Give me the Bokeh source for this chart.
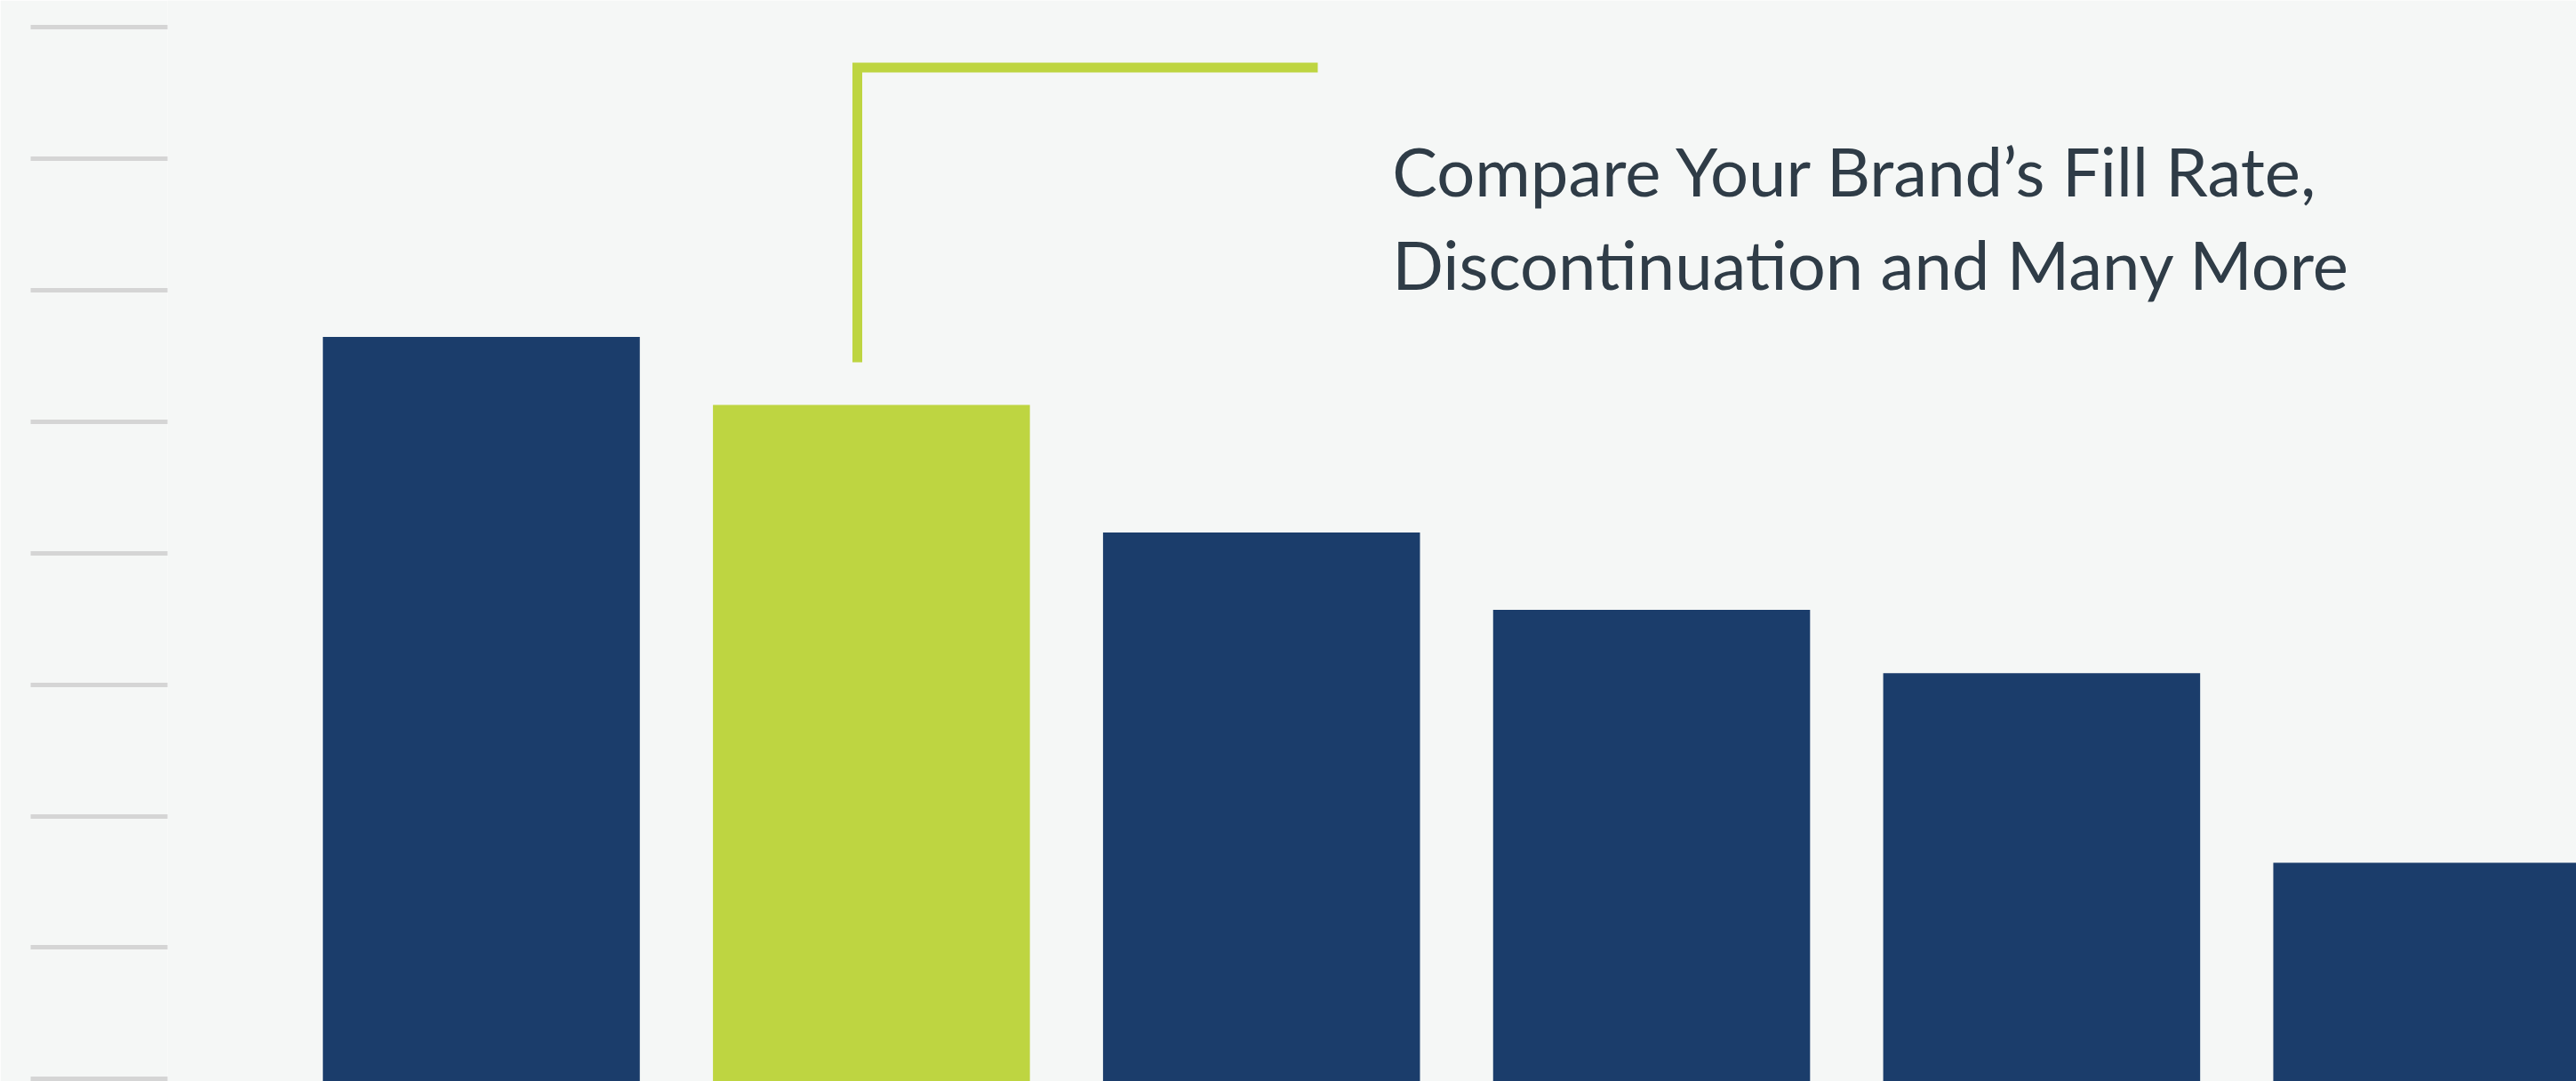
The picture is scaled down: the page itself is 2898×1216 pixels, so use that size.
from bokeh.plotting import figure
from bokeh.models import ColumnDataSource, FixedTicker, Range1d
from bokeh.core.properties import value
from bokeh.embed import file_html
from bokeh.resources import INLINE

# ---- data ----
positions = [0, 1, 2, 3, 4, 5]
bar_values = [5.645, 5.128, 4.157, 3.569, 3.088, 1.645]
highlight = [False, True, False, False, False, False]
tick_values = [0, 1, 2, 3, 4, 5, 6, 7, 8]
caption_lines = ["Compare Your Brand\u2019s Fill Rate,", "Discontinuation and Many More"]

NAVY = "#1b3d6b"
GREEN = "#bed541"
BG = "#f5f7f6"
TICK = "#d5d5d5"
TEXT = "#2f3c47"

p = figure(width=2898, height=1216, output_backend="svg", toolbar_location=None,
           x_range=Range1d(-0.8044, 5.3709), y_range=Range1d(-0.0183, 8.2049),
           min_border_left=188, min_border_right=0, min_border_top=0, min_border_bottom=0,
           background_fill_color=BG, border_fill_color=BG, outline_line_color=None,
           x_axis_location=None)
p.grid.visible = False

# left axis: only the long light tick marks are visible
ax = p.yaxis[0]
ax.ticker = FixedTicker(ticks=tick_values)
ax.axis_line_color = None
ax.major_tick_in = 0
ax.major_tick_out = 154
ax.major_tick_line_color = TICK
ax.major_tick_line_width = 5
ax.minor_tick_line_color = None
ax.major_label_overrides = {t: "" for t in tick_values}
ax.major_label_text_font_size = "0px"
ax.major_label_standoff = 0

src = ColumnDataSource(dict(
    x=positions,
    top=bar_values,
    color=[GREEN if h else NAVY for h in highlight],
))
p.vbar(x="x", top="top", bottom=-1, width=0.8125, fill_color="color",
       line_color=None, source=src)

# bracket callout above the highlighted bar
p.line(x=[0.9639, 0.9639, 2.1442], y=[5.452, 7.694, 7.694], line_color=GREEN,
       line_width=11, line_join="miter", line_cap="butt")

p.text(x=[2.335, 2.335], y=[6.91, 6.205], text=caption_lines,
       text_font=value("Lato"), text_font_size="76px", text_color=TEXT,
       text_baseline="alphabetic", text_align="left")

open("out.html", "w").write(file_html(p, INLINE))
